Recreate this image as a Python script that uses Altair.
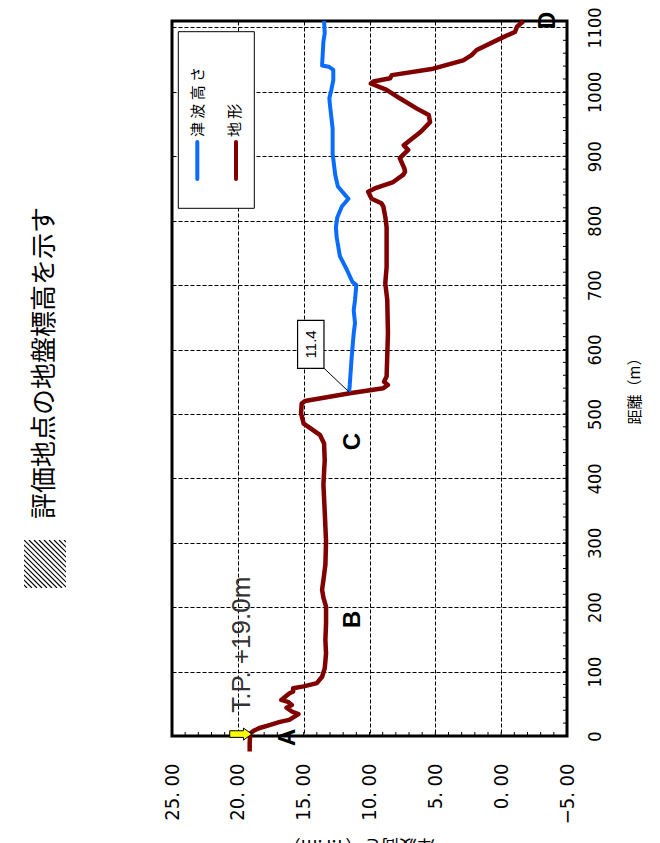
import base64
import altair as alt
import pandas as pd

# ---------------- data ----------------
terrain_dist = [-24, -10, 4, 8, 12, 17, 22, 25, 30, 34, 38, 44, 48, 53, 56, 61, 66, 69, 74, 77,
                82, 92, 105, 128, 149, 175, 201, 215, 227, 250, 266, 302, 348, 390, 410, 428,
                454, 467, 478, 485, 501, 516, 520, 532, 540, 545, 550, 558, 625, 677, 703, 728,
                790, 806, 822, 827, 834, 845, 850, 860, 871, 876, 881, 897, 910, 917, 938, 953,
                964, 974, 990, 1003, 1013, 1016, 1021, 1026, 1036, 1049, 1057, 1065, 1085, 1093,
                1101, 1110]
terrain_elev = [19.1, 19.1, 19.05, 18.8, 18.4, 17.6, 16.8, 16.1, 15.7, 15.4, 15.9, 16.3, 15.9, 16.2,
                16.7, 16.4, 16.1, 15.8, 15.8, 15.0, 14.0, 13.6, 13.4, 13.3, 13.35, 13.3, 13.3, 13.5,
                13.6, 13.45, 13.35, 13.3, 13.4, 13.5, 13.45, 13.4, 13.45, 13.75, 14.5, 15.0, 15.2,
                15.15, 14.9, 11.5, 8.95, 8.6, 8.9, 8.7, 8.6, 8.65, 8.8, 8.7, 8.7, 8.8, 8.95, 9.1,
                9.84, 10.1, 9.6, 8.2, 7.45, 7.3, 7.35, 7.7, 7.06, 7.4, 6.1, 5.4, 5.5, 6.4, 7.7, 8.7,
                9.9, 9.7, 8.44, 8.3, 5.16, 2.88, 2.25, 1.86, -0.16, -1.05, -1.2, -1.7]

tsunami_dist = [534, 545, 589, 625, 641, 661, 677, 700, 705, 723, 745, 775, 790, 805, 822, 834,
                840, 853, 871, 904, 943, 979, 990, 1003, 1018, 1034, 1039, 1041, 1078, 1091, 1110]
tsunami_elev = [11.55, 11.5, 11.35, 11.2, 11.1, 11.2, 11.1, 11.0, 11.3, 11.7, 12.25, 12.5, 12.55,
                12.45, 12.1, 11.6, 11.86, 12.4, 12.6, 12.8, 12.8, 13.0, 13.05, 12.9, 12.75, 12.75,
                13.1, 13.6, 13.5, 13.4, 13.45]

series_names = ["津波高さ", "地形"]
series_colors = ["#0a6cff", "#800000"]

elev_ticks = [-5, 0, 5, 10, 15, 20, 25]
dist_ticks = [0, 100, 200, 300, 400, 500, 600, 700, 800, 900, 1000, 1100]
elev_minor = list(range(-5, 26, 1))
dist_minor = list(range(0, 1101, 20))

point_labels = ["A", "B", "C", "D"]
point_dist = [-2, 181, 457, 1111]
point_elev = [16.17, 11.29, 11.29, -3.57]

callout_text = ["11.4"]
callout_box_elev = [14.46]
callout_box_dist = [608]
leader_from = (13.46, 571)
leader_to = (11.55, 534)

start_text = ["T.P. +19.0m"]
start_text_elev = [19.7]
start_text_dist = [36]
arrow_elev = [19.78]
arrow_dist = [3]

title_text = "評価地点の地盤標高を示す"
y_title = "距離（m）"
x_title = "津波高さ（T.P.m）"

# ---------------- layout ----------------
W, H = 395, 715
NARROW = "Liberation Sans Narrow, DejaVu Sans Condensed, Liberation Sans, sans-serif"
JP = "Noto Sans CJK JP"

x_scale = alt.Scale(domain=[-5, 25], reverse=True, nice=False, zero=False)
y_scale = alt.Scale(domain=[0, 1110], nice=False, zero=False)

x_axis = alt.Axis(values=elev_ticks, labelExpr="replace(format(datum.value, '.2f'), '.', '. ')",
                  labelAngle=270, labelAlign="right", labelBaseline="middle",
                  labelFont=NARROW, labelFontSize=20, labelColor="black", labelPadding=27,
                  labelFlush=False, labelOverlap=False, ticks=False, tickSize=0, domain=False,
                  grid=True, gridColor="black", gridDash=[4, 2], gridWidth=1, gridOpacity=1,
                  title=None)
y_axis = alt.Axis(values=dist_ticks, format="d", orient="right", labelAngle=270,
                  labelAlign="center", labelBaseline="middle", labelFont=NARROW,
                  labelFontSize=18, labelColor="black", labelPadding=28, labelFlush=False,
                  labelOverlap=False, ticks=False, tickSize=0, domain=False, grid=True,
                  gridColor="black", gridDash=[4, 2], gridWidth=1, gridOpacity=1,
                  title=y_title, titleAngle=270, titleFont=JP, titleFontSize=15,
                  titleFontWeight="normal", titleColor="black", titleX=67, titleY=366,
                  titleAlign="center", titleBaseline="middle")

terrain_df = pd.DataFrame({"d": terrain_dist, "e": terrain_elev, "i": range(len(terrain_dist))})
tsunami_df = pd.DataFrame({"d": tsunami_dist, "e": tsunami_elev, "i": range(len(tsunami_dist))})

X = lambda f="e": alt.X(f"{f}:Q", scale=x_scale)
Y = lambda f="d": alt.Y(f"{f}:Q", scale=y_scale)

terrain = alt.Chart(terrain_df).mark_line(
    color=series_colors[1], strokeWidth=4.5, strokeJoin="round", strokeCap="butt"
).encode(x=alt.X("e:Q", scale=x_scale, axis=x_axis), y=alt.Y("d:Q", scale=y_scale, axis=y_axis),
         order="i:Q")

tsunami = alt.Chart(tsunami_df).mark_line(
    color=series_colors[0], strokeWidth=4, strokeJoin="round"
).encode(x=X(), y=Y(), order="i:Q")

minor_x = alt.Chart(pd.DataFrame({"e": elev_minor})).mark_rule(color="black", strokeWidth=1).encode(
    x=X(), y=alt.value(H), y2=alt.value(H - 4))
minor_y = alt.Chart(pd.DataFrame({"d": dist_minor})).mark_rule(color="black", strokeWidth=1).encode(
    y=Y(), x=alt.value(W), x2=alt.value(W - 4))

leader = alt.Chart(pd.DataFrame({"e": [leader_from[0]], "d": [leader_from[1]],
                                 "e2": [leader_to[0]], "d2": [leader_to[1]]})).mark_rule(
    color="black", strokeWidth=1).encode(x=X(), y=Y(), x2="e2:Q", y2="d2:Q")

box_path = "M-0.55,-1L0.55,-1L0.55,1L-0.55,1Z"
callout_df = pd.DataFrame({"e": callout_box_elev, "d": callout_box_dist, "t": callout_text})
callout_box = alt.Chart(callout_df).mark_point(
    shape=box_path, size=48 * 48, filled=True, fill="white", stroke="black", strokeWidth=1.2,
    opacity=1).encode(x=X(), y=Y())
callout_lbl = alt.Chart(callout_df).mark_text(
    angle=270, fontSize=15, font="Liberation Sans", color="black", align="center",
    baseline="middle").encode(x=X(), y=Y(), text="t:N")

letters = alt.Chart(pd.DataFrame({"e": point_elev, "d": point_dist, "t": point_labels})).mark_text(
    angle=270, fontSize=24, fontWeight="bold", font="Liberation Sans", color="black",
    align="center", baseline="middle").encode(x=X(), y=Y(), text="t:N")

start_lbl = alt.Chart(pd.DataFrame({"e": start_text_elev, "d": start_text_dist, "t": start_text})).mark_text(
    angle=270, fontSize=26, font="Liberation Sans", color="#333333", align="left",
    baseline="middle").encode(x=X(), y=Y(), text="t:N")

arrow_path = "M-1,-0.3L0.25,-0.3L0.25,-0.55L1,0L0.25,0.55L0.25,0.3L-1,0.3Z"
arrow = alt.Chart(pd.DataFrame({"e": arrow_elev, "d": arrow_dist})).mark_point(
    shape=arrow_path, size=22 * 22, filled=True, fill="#ffff00", stroke="black", strokeWidth=1,
    opacity=1).encode(x=X(), y=Y())

one = pd.DataFrame({"k": [0]})
legend_box = alt.Chart(one).mark_rect(fill="white", stroke="black", strokeWidth=1).encode(
    x=alt.value(6.3), x2=alt.value(82.3), y=alt.value(10.7), y2=alt.value(187.3))
legend_line0 = alt.Chart(one).mark_rule(color=series_colors[0], strokeWidth=4, strokeCap="round").encode(
    x=alt.value(25.3), y=alt.value(121), y2=alt.value(158))
legend_line1 = alt.Chart(one).mark_rule(color=series_colors[1], strokeWidth=4, strokeCap="round").encode(
    x=alt.value(64), y=alt.value(121), y2=alt.value(158))
legend_txt0 = alt.Chart(one).mark_text(
    angle=270, fontSize=15, font=JP, color="black", align="left", baseline="middle",
    text=" ".join(series_names[0])).encode(x=alt.value(25.5), y=alt.value(116))
legend_txt1 = alt.Chart(one).mark_text(
    angle=270, fontSize=15, font=JP, color="black", align="left", baseline="middle",
    text=" ".join(series_names[1])).encode(x=alt.value(63), y=alt.value(116))

title = alt.Chart(one).mark_text(
    angle=270, fontSize=26, font=JP, color="black", align="center", baseline="middle",
    text=title_text).encode(x=alt.value(-127), y=alt.value(342))

hatch_lines = "".join(f"M{x},0L{x + 48},48" for x in range(-50, 46, 5))
hatch_svg = (f"<svg xmlns='http://www.w3.org/2000/svg' width='42' height='48'>"
             f"<path d='{hatch_lines}' stroke='black' stroke-width='1.2' fill='none'/></svg>")
hatch_url = "data:image/svg+xml;base64," + base64.b64encode(hatch_svg.encode()).decode()
hatch = alt.Chart(pd.DataFrame({"url": [hatch_url]})).mark_image(
    width=42, height=48, align="left", baseline="top").encode(
    x=alt.value(-148), y=alt.value(519), url="url:N")

x_title_txt = alt.Chart(one).mark_text(
    angle=180, fontSize=18, font=JP, color="black", align="center", baseline="bottom",
    text=x_title).encode(x=alt.value(187), y=alt.value(815))

chart = alt.layer(
    terrain, tsunami, minor_x, minor_y, leader, callout_box, callout_lbl, letters, start_lbl,
    arrow, legend_box, legend_line0, legend_line1, legend_txt0, legend_txt1, title, hatch,
    x_title_txt
).properties(
    width=W, height=H,
    padding={"left": 164, "top": 13, "right": 85, "bottom": 107},
    autosize=alt.AutoSizeParams(type="none"),
    background="white",
).configure_view(stroke="black", strokeWidth=3)

chart.save("out.html", embed_options={"renderer": "svg", "actions": False})
